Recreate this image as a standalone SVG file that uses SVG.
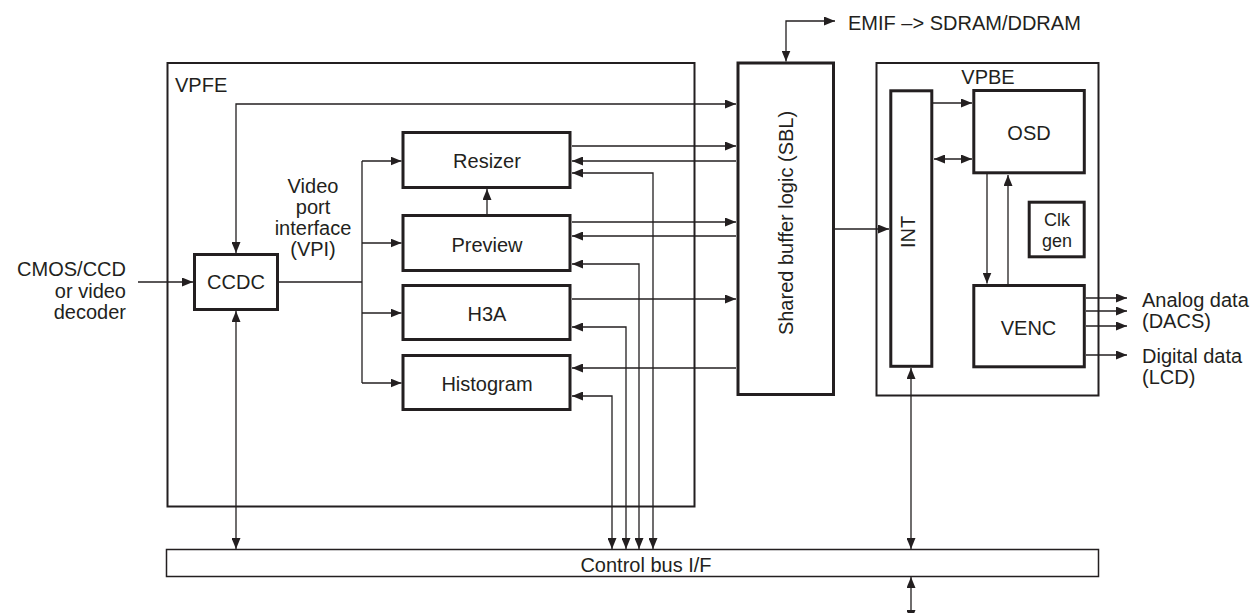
<svg xmlns="http://www.w3.org/2000/svg" width="1260" height="613" viewBox="0 0 1260 613">
<defs>
<marker id="a" viewBox="0 0 11 9" refX="11" refY="4.5" markerWidth="11" markerHeight="9" markerUnits="userSpaceOnUse" orient="auto-start-reverse"><path d="M0,0 L11,4.5 L0,9z" fill="#231f20"/></marker>
<style>
text{font-family:"Liberation Sans",Arial,sans-serif;font-size:20px;fill:#231f20}
.m{text-anchor:middle}
.e{text-anchor:end}
.box{fill:#fff;stroke:#231f20;stroke-width:3}
.frame{fill:none;stroke:#231f20;stroke-width:2}
.c{fill:none;stroke:#231f20;stroke-width:1.3}
.ae{marker-end:url(#a)}
.ab{marker-start:url(#a);marker-end:url(#a)}
</style>
</defs>
<rect width="1260" height="613" fill="#fff"/>
<g id="vpfe"><rect class="frame" x="167.5" y="63" width="527" height="443.5"/><text x="175" y="92">VPFE</text></g>
<g id="vpbe"><rect class="frame" x="876.5" y="63" width="222" height="332.5" stroke-width="1.7"/><text class="m" x="988" y="84">VPBE</text></g>
<g id="controlbus"><rect x="166.5" y="549.5" width="932" height="27" fill="#fff" stroke="#231f20" stroke-width="1.5"/><text class="m" x="646" y="571.5">Control bus I/F</text></g>
<g id="connectors">
<path class="c ae" d="M138,282 H193"/>
<path class="c ab" d="M236,253 V104 H736"/>
<path class="c" d="M279,282 H362 M362,161 V383"/>
<path class="c ae" d="M362,161 H401.5"/>
<path class="c ae" d="M362,243 H401.5"/>
<path class="c ae" d="M362,313 H401.5"/>
<path class="c ae" d="M362,383 H401.5"/>
<path class="c ab" d="M236,311 V549"/>
<path class="c ae" d="M572,146 H736"/>
<path class="c ae" d="M736,161 H572"/>
<path class="c ab" d="M653,549 V173 H572"/>
<path class="c ae" d="M487,214 V189"/>
<path class="c ae" d="M572,222 H736"/>
<path class="c ae" d="M736,236 H572"/>
<path class="c ab" d="M639,549 V264 H572"/>
<path class="c ae" d="M572,299 H736"/>
<path class="c ab" d="M626,549 V327 H572"/>
<path class="c ae" d="M736,368 H572"/>
<path class="c ab" d="M612,549 V396 H572"/>
<path class="c ab" d="M835,21 H786 V61.5"/>
<path class="c ae" d="M835,229 H889"/>
<path class="c ae" d="M933,103 H972"/>
<path class="c ab" d="M934,159 H972"/>
<path class="c ae" d="M987,174 V283.5"/>
<path class="c ae" d="M1008,284 V175"/>
<path class="c ae" d="M1086,298 H1127"/>
<path class="c ae" d="M1086,311 H1127"/>
<path class="c ae" d="M1086,326 H1127"/>
<path class="c ae" d="M1086,355 H1127"/>
<path class="c ab" d="M911,549 V368"/>
<path class="c ab" d="M911,577 V621"/>
</g>
<g id="ccdc"><rect class="box" x="194.5" y="254.5" width="83" height="55"/><text class="m" x="236" y="289">CCDC</text></g>
<g id="resizer"><rect class="box" x="403" y="132.5" width="167" height="55"/><text class="m" x="487" y="168">Resizer</text></g>
<g id="preview"><rect class="box" x="403" y="215.5" width="167" height="55"/><text class="m" x="487" y="251.5">Preview</text></g>
<g id="h3a"><rect class="box" x="403" y="285.5" width="167" height="54"/><text class="m" x="487" y="321">H3A</text></g>
<g id="histogram"><rect class="box" x="403" y="355.5" width="167" height="54"/><text class="m" x="487" y="390.5">Histogram</text></g>
<g id="sbl"><rect class="box" x="738" y="63" width="95.5" height="331.5"/><text class="m" transform="translate(793,223) rotate(-90)">Shared buffer logic (SBL)</text></g>
<g id="int"><rect class="box" x="890.8" y="90.8" width="41" height="275.5"/><text class="m" transform="translate(915,232) rotate(-90)">INT</text></g>
<g id="osd"><rect class="box" x="973.8" y="90.5" width="110.5" height="82.3"/><text class="m" x="1029" y="140">OSD</text></g>
<g id="clkgen"><rect class="box" x="1029.2" y="202.2" width="55" height="54.6"/><text class="m" x="1057" y="226" style="font-size:18px">Clk</text><text class="m" x="1057" y="247" style="font-size:18px">gen</text></g>
<g id="venc"><rect class="box" x="973.8" y="285.5" width="110.5" height="81.3"/><text class="m" x="1028.5" y="335">VENC</text></g>
<g id="labels">
<text class="m" x="313" y="192.5">Video</text><text class="m" x="313" y="213.5">port</text><text class="m" x="313" y="234.5">interface</text><text class="m" x="313" y="255.5">(VPI)</text>
<text class="e" x="126" y="276">CMOS/CCD</text><text class="e" x="126" y="297.5">or video</text><text class="e" x="126" y="319">decoder</text>
<text x="848" y="30">EMIF –&gt; SDRAM/DDRAM</text>
<text x="1142" y="306.5">Analog data</text><text x="1142" y="327.5">(DACS)</text>
<text x="1142" y="362.5">Digital data</text><text x="1142" y="384">(LCD)</text>
</g>
</svg>
